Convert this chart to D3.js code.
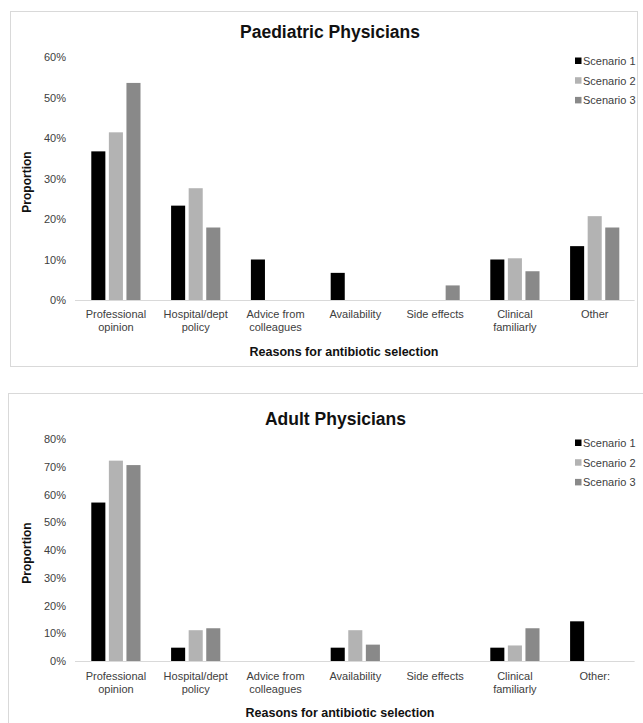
<!DOCTYPE html>
<html lang="en">
<head>
  <meta charset="UTF-8">
  <title>Reasons for antibiotic selection</title>
  <script src="https://cdn.jsdelivr.net/npm/d3@7/dist/d3.min.js"></script>
  <style>
    body { margin: 0; background: #fff; }
    text { font-family: "Liberation Sans", Arial, sans-serif; }
  </style>
</head>
<body>
  <script>
    // data (percent)
    const paedCategories = ['Professional\nopinion', 'Hospital/dept\npolicy', 'Advice from\ncolleagues',
      'Availability', 'Side effects', 'Clinical\nfamiliarly', 'Other'];
    const adultCategories = ['Professional\nopinion', 'Hospital/dept\npolicy', 'Advice from\ncolleagues',
      'Availability', 'Side effects', 'Clinical\nfamiliarly', 'Other:'];
    const seriesNames = ['Scenario 1', 'Scenario 2', 'Scenario 3'];
    const seriesColors = ['#000000', '#b3b3b3', '#898989'];

    const paedS1 = [36.7, 23.3, 10.0, 6.7, 0, 10.0, 13.3];
    const paedS2 = [41.4, 27.6, 0, 0, 0, 10.3, 20.7];
    const paedS3 = [53.6, 17.9, 0, 0, 3.6, 7.1, 17.9];

    const adultS1 = [57.1, 4.8, 0, 4.8, 0, 4.8, 14.3];
    const adultS2 = [72.2, 11.1, 0, 11.1, 0, 5.6, 0];
    const adultS3 = [70.6, 11.8, 0, 5.9, 0, 11.8, 0];

    const paedTicks = [0, 10, 20, 30, 40, 50, 60];
    const adultTicks = [0, 10, 20, 30, 40, 50, 60, 70, 80];

    const svg = d3.select('body').append('svg')
      .attr('width', 643).attr('height', 723);

    function drawPanel(p) {
      const g = svg.append('g');

      // frame
      g.append('rect')
        .attr('x', p.box[0] + 0.5).attr('y', p.box[1] + 0.5)
        .attr('width', p.box[2]).attr('height', p.box[3])
        .attr('fill', 'none').attr('stroke', '#d9d9d9');

      const x0 = d3.scaleBand().domain(p.categories).range([76, 634.6]);
      const x1 = d3.scaleBand().domain(seriesNames).range([0, x0.bandwidth()])
        .paddingInner(0.2).paddingOuter(0.87);
      const y = d3.scaleLinear().domain([0, d3.max(p.ticks)]).range([p.base, p.top]);

      // bars
      const rows = p.categories.map((c, i) => ({
        cat: c,
        vals: p.series.map((s, k) => ({ name: seriesNames[k], v: s[i], color: seriesColors[k] }))
      }));
      const grp = g.selectAll('g.cat').data(rows).enter().append('g')
        .attr('transform', d => `translate(${x0(d.cat)},0)`);
      grp.selectAll('rect').data(d => d.vals.filter(e => e.v > 0)).enter().append('rect')
        .attr('x', d => x1(d.name))
        .attr('width', x1.bandwidth())
        .attr('y', d => y(d.v))
        .attr('height', d => y(0) - y(d.v))
        .attr('fill', d => d.color);

      // y axis
      const yAxis = g.append('g').attr('transform', 'translate(66,0)')
        .call(d3.axisLeft(y).tickValues(p.ticks).tickFormat(d => d + '%').tickSize(0).tickPadding(0));
      yAxis.select('.domain').remove();
      yAxis.selectAll('text').attr('font-size', 11).attr('fill', '#404040')
        .style('font-family', '"Liberation Sans", Arial, sans-serif');

      // x axis
      const xAxis = g.append('g').attr('transform', `translate(0,${p.base})`)
        .call(d3.axisBottom(x0).tickSize(0).tickFormat(''));
      xAxis.select('.domain').attr('stroke', '#d9d9d9').attr('d', `M${x0.range()[0] - 1},0.5H${x0.range()[1]}`);
      xAxis.selectAll('.tick').each(function (d) {
        const t = d3.select(this).append('text')
          .attr('text-anchor', 'middle').attr('font-size', 11).attr('fill', '#404040');
        d.split('\n').forEach((line, i) => {
          t.append('tspan').attr('x', 0).attr('y', p.labelDy + i * 12.6).text(line);
        });
      });

      // titles
      g.append('text').attr('x', p.titleX).attr('y', p.titleY)
        .attr('text-anchor', 'middle').attr('font-size', 17.5).attr('font-weight', 'bold')
        .attr('fill', '#111').text(p.title);
      g.append('text').attr('x', p.xTitleX).attr('y', p.xTitleY)
        .attr('text-anchor', 'middle').attr('font-size', 12.5).attr('font-weight', 'bold')
        .attr('fill', '#111').text('Reasons for antibiotic selection');
      g.append('text').attr('transform', `translate(31,${p.yTitleY}) rotate(-90)`)
        .attr('text-anchor', 'middle').attr('font-size', 12).attr('font-weight', 'bold')
        .attr('fill', '#111').text('Proportion');

      // legend
      const lg = g.selectAll('g.leg').data(seriesNames).enter().append('g')
        .attr('transform', (d, i) => `translate(575,${p.legendY + i * 19.7})`);
      lg.append('rect').attr('x', 0).attr('y', -3.5).attr('width', 6.5).attr('height', 6.5)
        .attr('fill', (d, i) => seriesColors[i]);
      lg.append('text').attr('x', 8).attr('y', 4).attr('font-size', 11)
        .attr('fill', '#404040').text(d => d);
    }

    drawPanel({
      title: 'Paediatric Physicians', categories: paedCategories,
      series: [paedS1, paedS2, paedS3], ticks: paedTicks,
      box: [10, 11, 627, 355], base: 300, top: 57,
      titleX: 330, titleY: 37.5, xTitleX: 344, xTitleY: 355.5, yTitleY: 182,
      labelDy: 18, legendY: 61
    });

    drawPanel({
      title: 'Adult Physicians', categories: adultCategories,
      series: [adultS1, adultS2, adultS3], ticks: adultTicks,
      box: [8, 393, 640, 340], base: 661, top: 439,
      titleX: 335.5, titleY: 425, xTitleX: 340, xTitleY: 717, yTitleY: 553,
      labelDy: 19, legendY: 443
    });
  </script>
</body>
</html>
